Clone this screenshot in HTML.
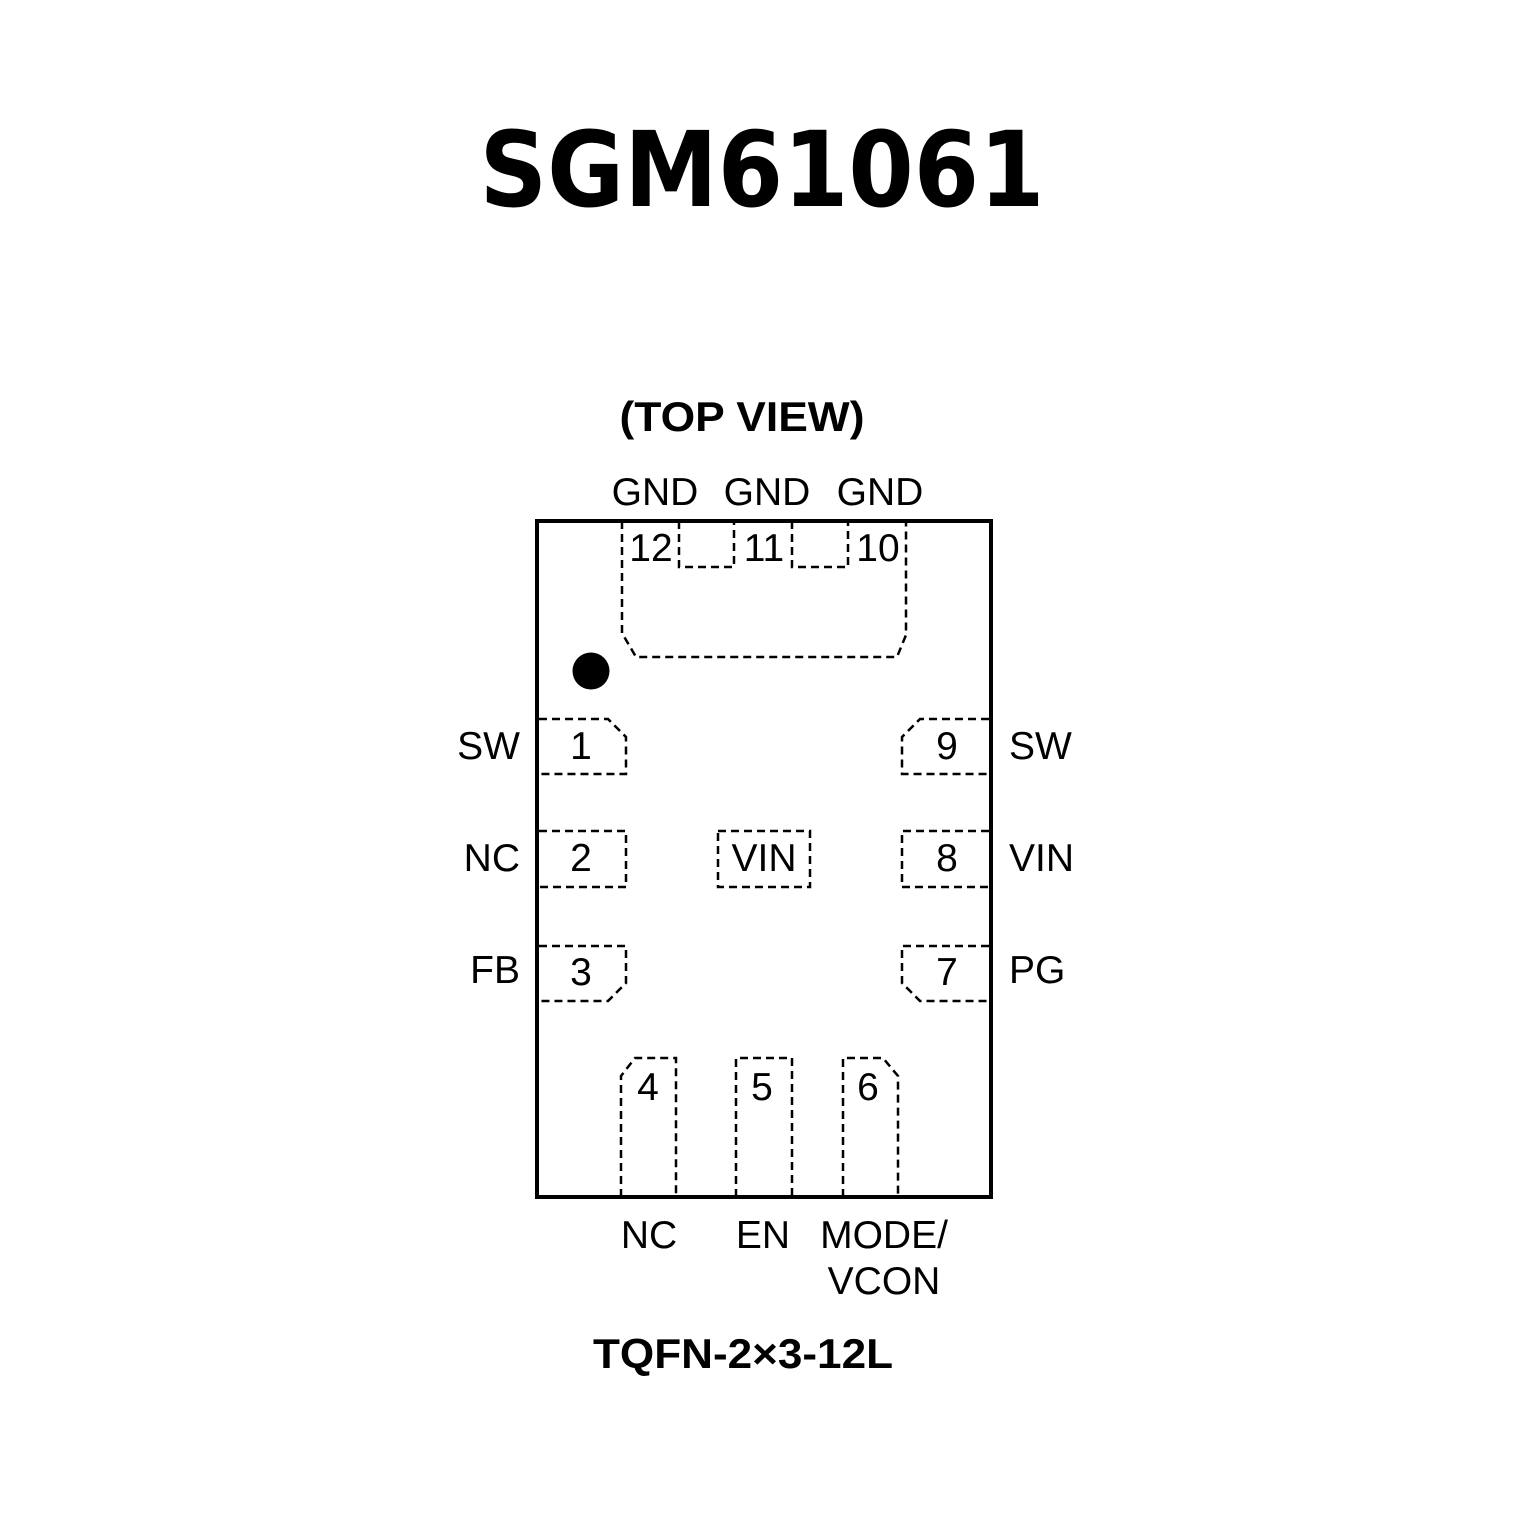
<!DOCTYPE html>
<html><head><meta charset="utf-8"><style>html,body{margin:0;padding:0;background:#fff}</style></head>
<body>
<svg width="1535" height="1535" viewBox="0 0 1535 1535" xmlns="http://www.w3.org/2000/svg">
<rect width="1535" height="1535" fill="#fff"/>
<text x="762" y="206" text-anchor="middle" font-family="DejaVu Sans, sans-serif" font-weight="bold" font-size="104" textLength="565" lengthAdjust="spacingAndGlyphs">SGM61061</text>
<text x="742" y="431" text-anchor="middle" font-family="Liberation Sans, sans-serif" font-weight="bold" font-size="42" textLength="245" lengthAdjust="spacingAndGlyphs">(TOP VIEW)</text>
<g font-family="Liberation Sans, sans-serif" font-size="39" fill="#000">
<text x="655" y="505" text-anchor="middle">GND</text>
<text x="767" y="505" text-anchor="middle">GND</text>
<text x="880" y="505" text-anchor="middle">GND</text>
<text x="651" y="561" text-anchor="middle">12</text>
<text x="764" y="561" text-anchor="middle">11</text>
<text x="878" y="561" text-anchor="middle">10</text>
<text x="520" y="759" text-anchor="end">SW</text>
<text x="520" y="871" text-anchor="end">NC</text>
<text x="520" y="983" text-anchor="end">FB</text>
<text x="1009" y="759">SW</text>
<text x="1009" y="871">VIN</text>
<text x="1009" y="983">PG</text>
<text x="581" y="759" text-anchor="middle">1</text>
<text x="581" y="871" text-anchor="middle">2</text>
<text x="581" y="985" text-anchor="middle">3</text>
<text x="947" y="759" text-anchor="middle">9</text>
<text x="947" y="871" text-anchor="middle">8</text>
<text x="947" y="985" text-anchor="middle">7</text>
<text x="764" y="871" text-anchor="middle">VIN</text>
<text x="648" y="1100" text-anchor="middle">4</text>
<text x="762" y="1100" text-anchor="middle">5</text>
<text x="868" y="1100" text-anchor="middle">6</text>
<text x="649" y="1248" text-anchor="middle">NC</text>
<text x="763" y="1248" text-anchor="middle">EN</text>
<text x="884" y="1248" text-anchor="middle">MODE/</text>
<text x="884" y="1294" text-anchor="middle">VCON</text>
</g>
<text x="743" y="1368" text-anchor="middle" font-family="Liberation Sans, sans-serif" font-weight="bold" font-size="42" textLength="300" lengthAdjust="spacingAndGlyphs">TQFN-2×3-12L</text>
<rect x="537" y="521" width="454" height="676" fill="none" stroke="#000" stroke-width="4"/>
<circle cx="591" cy="671" r="18.5" fill="#000"/>
<g fill="none" stroke="#000" stroke-width="2.5" stroke-dasharray="8,5">
<path d="M622 521 V633 L636 657 H897 L906 635 V521"/>
<path d="M679 521 V567 H734 V521"/>
<path d="M792 521 V567 H848 V521"/>
<path d="M539 719 H608 L626 737 V774 H539"/>
<path d="M539 831 H626 V887 H539"/>
<path d="M539 946 H626 V983 L608 1001 H539"/>
<path d="M989 719 H920 L902 737 V774 H989"/>
<path d="M989 831 H902 V887 H989"/>
<path d="M989 946 H902 V983 L920 1001 H989"/>
<rect x="718" y="831" width="92" height="56"/>
<path d="M621 1197 V1076 L635 1058 H676 V1197"/>
<path d="M736 1197 V1058 H792 V1197"/>
<path d="M843 1197 V1058 H883 L898 1076 V1197"/>
</g>
</svg>
</body></html>
